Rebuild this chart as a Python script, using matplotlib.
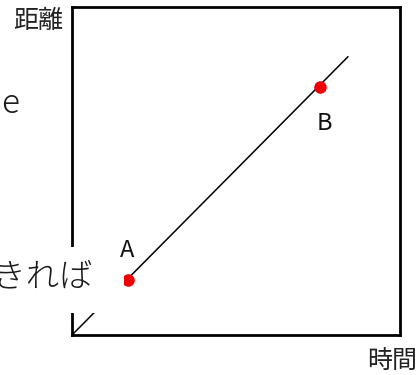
import matplotlib.pyplot as plt
from matplotlib.patches import Rectangle

plt.rcParams['font.family'] = ['Noto Sans CJK JP', 'DejaVu Sans']

# distance-time line and the two marked points
line_x = [0.0, 8.41]
line_y = [0.0, 8.48]
point_names = ["A", "B"]
point_x = [1.70, 7.55]
point_y = [1.67, 7.56]

W, H = 420, 375
fig = plt.figure(figsize=(W / 100, H / 100), dpi=100)
ax = fig.add_axes([72 / W, 1 - 335 / H, 328 / W, 328 / H])
ax.set_xlim(0, 10)
ax.set_ylim(0, 10)
ax.set_xticks([])
ax.set_yticks([])
for s in ax.spines.values():
    s.set_linewidth(2.0)

ax.plot(line_x, line_y, color='black', linewidth=1.1, zorder=2)
ax.plot(point_x, point_y, 'o', color='#ee0000', markersize=8, zorder=2.6)

# white box of the slide text sits over the axis, line and point A
ax.add_patch(Rectangle((-72 / 328, (335 - 313) / 328), 124 / 328, 66 / 328,
                       transform=ax.transAxes, facecolor='white',
                       edgecolor='none', clip_on=False, zorder=2.8))

# labels: A above its point, B below
ax.text(point_x[0] - 0.03, point_y[0] + 0.9, point_names[0], fontsize=17,
        ha='center', va='center', color='#111111', zorder=4)
ax.text(point_x[1] + 0.15, point_y[1] - 1.1, point_names[1], fontsize=17,
        ha='center', va='center', color='#111111', zorder=4)

fig.text(38 / W, 1 - 21 / H, "距離", fontsize=18, ha='center', va='center',
         color='#222222')
fig.text(392 / W, 1 - 361 / H, "時間", fontsize=18, ha='center', va='center',
         color='#222222')

# pieces of surrounding slide text
fig.text(10 / W, 1 - 104 / H, "e", fontsize=24, ha='center', va='center',
         color='#1a1a1a', fontweight='light')
fig.text(93 / W, 1 - 277 / H, "できれば", fontsize=24, ha='right', va='center',
         color='#1a1a1a', fontweight='light', zorder=6)

fig.savefig("out.png", dpi=100)
